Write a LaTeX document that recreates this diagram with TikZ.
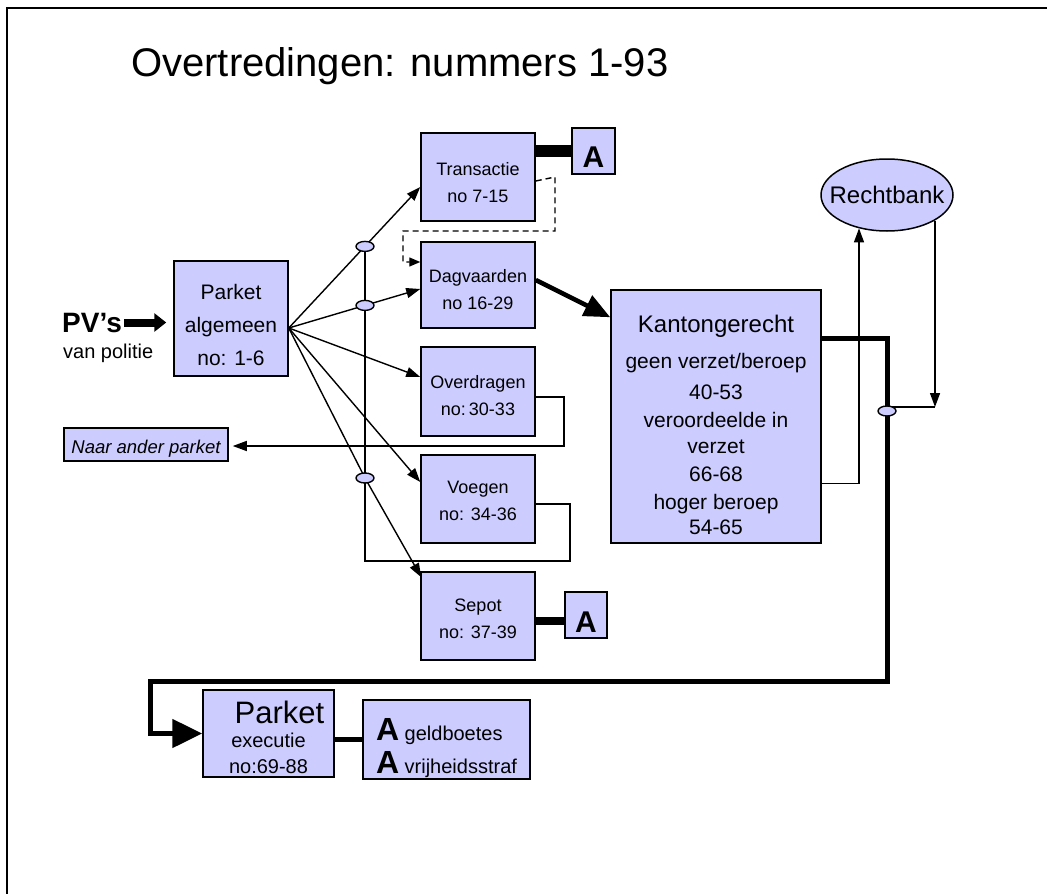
\documentclass[tikz,border=0pt]{standalone}
\usepackage{fontspec}
\setmainfont{Liberation Sans}
\usepackage{tikz}
\usetikzlibrary{calc,arrows.meta,shapes.geometric}
\definecolor{light_blue}{HTML}{CCCCFF}

\begin{document}
\begin{tikzpicture}[x=1pt,y=-1pt,>={Triangle[length=14pt,width=10pt]},
              box/.style={draw,line width=1.5pt,fill=light_blue,align=center,inner sep=0pt,font=\fontsize{18}{27}\selectfont},
              knot/.style={ellipse,draw,line width=1.4pt,fill=light_blue,minimum width=18pt,minimum height=10pt,inner sep=0pt},
              link/.style={line width=1.4pt},
              dashlink/.style={line width=1.4pt,dash pattern=on 6pt off 4pt,-{Triangle[length=11pt,width=9pt]}},
              fat/.style n args={3}{line width=#1,-{Triangle[length=#2,width=#3]}},
              abox/.style={box,minimum width=43pt,font=\fontsize{30}{30}\selectfont\bfseries}]
              \useasboundingbox (0,0) rectangle (1047,894);
              \draw[line width=2.5pt] (1047,8) -- (7,8) -- (7,894);
              \node[anchor=base west,inner sep=0pt,font=\fontsize{40}{40}\selectfont] (title) at (131,76) {Overtredingen: nummers 1-93};
              \node[anchor=base west,inner sep=0pt,font=\fontsize{28}{28}\selectfont\bfseries] (pv) at (62,332) {PV’s};
              \node[anchor=base west,inner sep=0pt,font=\fontsize{20}{20}\selectfont] (politie) at (63,358) {van politie};
              \node[box,minimum width=114pt,text height=104.5pt,text depth=10.5pt,font=\fontsize{21}{33}\selectfont] (parket) at (231,318.5) {Parket\\algemeen\\no: 1-6};
              \node[box,minimum width=164pt,text height=25pt,text depth=8pt,font=\fontsize{18.5}{20}\selectfont\itshape] (naar) at (146,444.5) {Naar ander parket};
              \node[box,minimum width=114pt,text height=69.5pt,text depth=18.5pt] (trans) at (478,177) {Transactie\\no 7-15};
              \node[box,minimum width=114pt,text height=67.5pt,text depth=18.5pt] (dag) at (478,285) {Dagvaarden\\no 16-29};
              \node[box,minimum width=114pt,text height=68.5pt,text depth=20.5pt] (over) at (478,391.5) {Overdragen\\no:\,30-33};
              \node[box,minimum width=114pt,text height=65.5pt,text depth=22.5pt] (voeg) at (478,499) {Voegen\\no: 34-36};
              \node[box,minimum width=114pt,text height=66.5pt,text depth=21.5pt] (sepot) at (478,616) {Sepot\\no: 37-39};
              \node[abox,text height=39pt,text depth=7pt] (atrans) at (593.5,151) {A};
              \node[abox,minimum width=42pt,text height=40pt,text depth=6pt] (asepot) at (586,615) {A};
              \node[box,minimum width=210pt,text height=244pt,text depth=9pt,font=\fontsize{21}{28}\selectfont] (kanton) at (716,416.5) {{\fontsize{24}{28}\selectfont Kantongerecht}\\[8pt]geen verzet/beroep\\[3pt]40-53\\veroordeelde in\\[-2pt]verzet\\66-68\\hoger beroep\\[-3pt]54-65};
              \node[ellipse,draw,line width=1.5pt,fill=light_blue,minimum width=132pt,minimum height=72pt,inner xsep=-11pt,inner ysep=0pt,font=\fontsize{24}{24}\selectfont] (recht) at (887,195) {Rechtbank};
              \node[box,minimum width=131pt,text height=83pt,text depth=4pt,font=\fontsize{20}{25}\selectfont] (exec) at (268.5,733.5) {{\fontsize{31}{31}\selectfont\hspace*{22pt}Parket}\\[-1pt]executie\\[1pt]no:69-88};
              \node[box,minimum width=167pt,text height=73pt,text depth=6pt,align=left,font=\fontsize{20}{33}\selectfont] (straf) at (446.5,739.5) {{\fontsize{32}{32}\selectfont\bfseries A} geldboetes\\{\fontsize{32}{32}\selectfont\bfseries A} vrijheidsstraf};
              \coordinate (F) at ([yshift=-9.5pt]parket.east);
              \coordinate (k1) at (365,246.4);
              \coordinate (k2) at (365,305.4);
              \coordinate (k3) at (365,478);
              \coordinate (k4) at (887,411);
              \coordinate (D1) at (555,231);
              \coordinate (D2) at (403,231);
              \coordinate (O1) at (564,446);
              \coordinate (V1) at (570,504);
              \coordinate (V2) at (570,561);
              \coordinate (B1) at (887,681);
              \coordinate (B2) at (150,681);
              \coordinate (R1) at (935,407);
              \coordinate (S1) at ([yshift=-6pt]asepot.west);
              \draw[fat={8pt}{12pt}{18pt}] ([xshift=2pt]pv.east) -- (parket.west |- pv.east) [shorten >=7pt];
              \draw[link,->] (F) -- ([yshift=-10pt]trans.west);
              \draw[link,->] (F) -- ([yshift=-4pt]dag.west);
              \draw[link,->] (F) -- ([yshift=14.5pt]over.west);
              \draw[link,->] (F) -- ([yshift=17pt]voeg.west);
              \draw[link,->] (F) -- (k3) -- ([xshift=1pt,yshift=-6pt]sepot.north west);
              \draw[line width=12pt] (trans.east |- atrans.west) -- (atrans.west);
              \draw[line width=8pt] (S1 -| sepot.east) -- (S1);
              \draw[dashlink] ([yshift=-4pt]trans.east) -- (D1 |- trans.east) -- (D1) -- (D2) |- ([yshift=23pt]dag.west);
              \draw[fat={4.5pt}{26pt}{22pt}] ([yshift=5pt]dag.east) -- ([yshift=-28pt]kanton.north west);
              \draw[link,->] ([yshift=-5.5pt]over.east) -| (O1) -- (naar.east |- O1) [shorten >=4pt];
              \draw[link] ([yshift=-5pt]voeg.east) -- (V1) -- (V2) -| (k1);
              \draw[fat={5pt}{30pt}{28pt}] ([yshift=78.5pt]kanton.east) -| (B1) -- (B2) |- (exec.west);
              \draw[link,->] ([yshift=-67pt]kanton.east) -| (recht.230);
              \draw[link,->] (recht.-28) -- (recht.-28 |- R1);
              \draw[link] (recht.-28 |- R1) -- (R1 -| k4);
              \draw[line width=5pt] (exec.east |- straf.west) -- (straf.west);
              \node[knot] (knot1) at (k1) {};
              \node[knot] (knot2) at (k2) {};
              \node[knot] (knot3) at (k3) {};
              \node[knot] (knot4) at (k4) {};
\end{tikzpicture}
\end{document}
